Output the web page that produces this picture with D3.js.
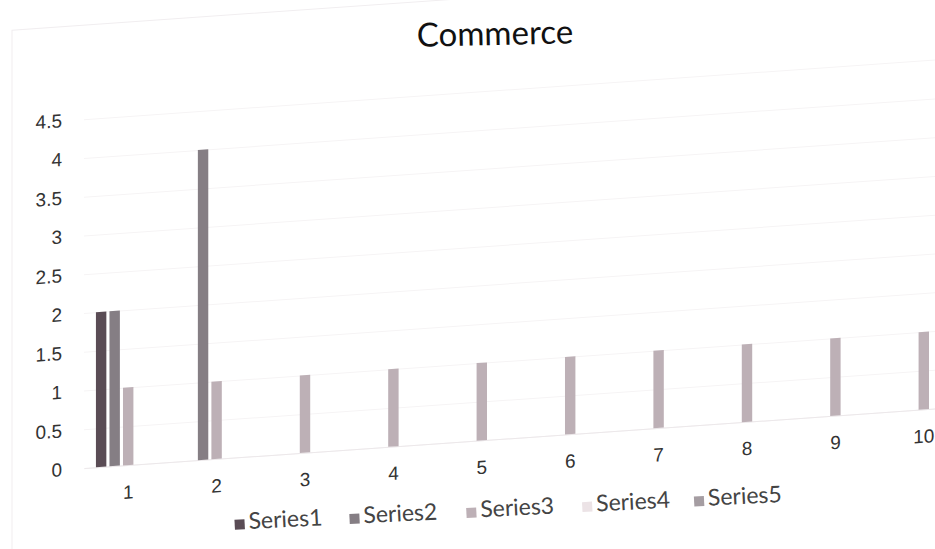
<!DOCTYPE html>
<meta charset="utf-8">
<style>
body { margin: 0; background: #fff; }
svg { font-family: Lato, "Open Sans", sans-serif; }
.grid line { stroke: #f6f4f5; }
.grid path { display: none; }
.yaxis text, .xaxis text { font-size: 19px; fill: #333; }
.legend text { font-size: 23px; fill: #444; }
</style>
<svg width="935" height="549"></svg>
<script src="https://cdnjs.cloudflare.com/ajax/libs/d3/7.8.5/d3.min.js"></script>
<script>

// values
var categories = ["1", "2", "3", "4", "5", "6", "7", "8", "9", "10"];
var seriesNames = ["Series1", "Series2", "Series3", "Series4", "Series5"];
var series1 = [2, 0, 0, 0, 0, 0, 0, 0, 0, 0];
var series2 = [2, 4, 0, 0, 0, 0, 0, 0, 0, 0];
var series3 = [1, 1, 1, 1, 1, 1, 1, 1, 1, 1];
var series4 = [0, 0, 0, 0, 0, 0, 0, 0, 0, 0];
var series5 = [0, 0, 0, 0, 0, 0, 0, 0, 0, 0];
var yTicks = [0, 0.5, 1, 1.5, 2, 2.5, 3, 3.5, 4, 4.5];

var colors = ["#5a4c55", "#857e84", "#bdb0b6", "#ece3e6", "#a59da2"];

var allSeries = [series1, series2, series3, series4, series5];

var svg = d3.select("svg");

var plotLeft = 84, plotRight = 968, plotTop = 125, plotBottom = 474;

// the printout was photographed at an angle, so the plot is sheared a bit
var body = svg.append("g").attr("transform", "skewY(-4)");

// faint chart border
body.append("rect")
    .attr("x", 12).attr("y", 31)
    .attr("width", 1000).attr("height", 600)
    .attr("fill", "none")
    .attr("stroke", "#f1eef0");

var x0 = d3.scaleBand()
    .domain(categories)
    .range([plotLeft, plotRight])
    .paddingInner(0.27)
    .paddingOuter(0.135);

var x1 = d3.scaleBand()
    .domain(seriesNames)
    .range([0, x0.bandwidth()])
    .paddingInner(0.23);

var y = d3.scaleLinear()
    .domain([0, 4.5])
    .range([plotBottom, plotTop]);

body.append("g")
    .attr("class", "grid")
    .attr("transform", "translate(" + plotLeft + ",0)")
    .call(d3.axisLeft(y).tickValues(yTicks).tickSize(-(plotRight - plotLeft)).tickFormat(""));

body.append("g")
    .attr("class", "yaxis")
    .attr("transform", "translate(" + plotLeft + ",0)")
    .call(d3.axisLeft(y).tickValues(yTicks).tickSize(0).tickPadding(22).tickFormat(d3.format("~g")))
    .call(function(g) { g.select(".domain").remove(); });

body.append("g")
    .attr("class", "xaxis")
    .attr("transform", "translate(0," + plotBottom + ")")
    .call(d3.axisBottom(x0).tickSize(0).tickPadding(20))
    .call(function(g) { g.select(".domain").attr("stroke", "#ece8ea"); });

var bars = [];
allSeries.forEach(function(vals, s) {
  vals.forEach(function(v, i) {
    if (v > 0) bars.push({cat: categories[i], name: seriesNames[s], value: v, color: colors[s]});
  });
});

body.append("g")
  .selectAll("rect")
  .data(bars)
  .enter().append("rect")
    .attr("x", function(d) { return x0(d.cat) + x1(d.name); })
    .attr("y", function(d) { return y(d.value); })
    .attr("width", x1.bandwidth())
    .attr("height", function(d) { return y(0) - y(d.value); })
    .attr("fill", function(d) { return d.color; });

// title
svg.append("text")
    .attr("x", 495).attr("y", 45)
    .attr("text-anchor", "middle")
    .attr("transform", "rotate(-1.2, 495, 34)")
    .style("font-size", "33px")
    .style("fill", "#111")
    .text("Commerce");

// legend
var legendX = [234, 349, 466, 582, 694];
var legend = svg.append("g")
    .attr("class", "legend")
    .attr("transform", "rotate(-2.9, 466, 505)");

var item = legend.selectAll("g")
  .data(seriesNames)
  .enter().append("g")
    .attr("transform", function(d, i) { return "translate(" + legendX[i] + "," + 518 + ")"; });

item.append("rect")
    .attr("x", 0).attr("y", -10)
    .attr("width", 10).attr("height", 10)
    .attr("fill", function(d, i) { return colors[i]; });

item.append("text")
    .attr("x", 14).attr("y", 0)
    .text(function(d) { return d; });

</script>
